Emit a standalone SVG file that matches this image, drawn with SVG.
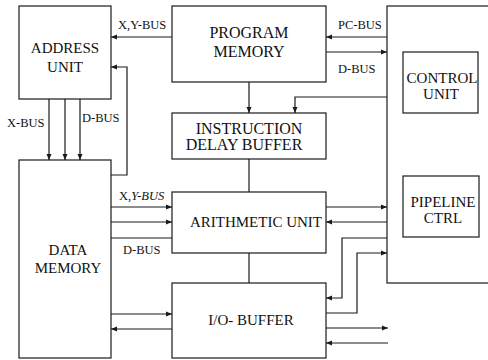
<svg xmlns="http://www.w3.org/2000/svg" width="488" height="360" viewBox="0 0 488 360">
<defs>
<marker id="ah" markerUnits="userSpaceOnUse" markerWidth="7" markerHeight="6" refX="6" refY="3" orient="auto">
<path d="M0,0.5 L6,3 L0,5.5 Z" fill="#1a1a1a"/>
</marker>
<style>
.box{fill:#fff;stroke:#1a1a1a;stroke-width:1.2}
.ln{fill:none;stroke:#1a1a1a;stroke-width:1.2}
.arr{marker-end:url(#ah)}
.t{font-family:"Liberation Serif","Times New Roman",serif;font-size:15px;fill:#111;text-anchor:middle}
.t16{font-size:16px}
.b{font-family:"Liberation Serif","Times New Roman",serif;font-size:12.5px;fill:#111}
</style>
</defs>
<rect width="488" height="360" fill="#fff"/>
<g id="control-block">
<rect class="box" x="387" y="6" width="110" height="277"/>
</g>
<g id="address-unit">
<rect class="box" x="19" y="6" width="92" height="93"/>
<text class="t" x="65" y="53">ADDRESS</text>
<text class="t" x="65" y="72">UNIT</text>
</g>
<g id="program-memory">
<rect class="box" x="172" y="6" width="154" height="76"/>
<text class="t t16" x="249" y="38">PROGRAM</text>
<text class="t t16" x="249" y="57">MEMORY</text>
</g>
<g id="instruction-delay-buffer">
<rect class="box" x="172" y="113" width="154" height="46"/>
<text class="t t16" x="249" y="134">INSTRUCTION</text>
<text class="t t16" x="244" y="150">DELAY BUFFER</text>
</g>
<g id="data-memory">
<rect class="box" x="19" y="160" width="92" height="198"/>
<text class="t" x="68" y="255">DATA</text>
<text class="t" x="68" y="273">MEMORY</text>
</g>
<g id="arithmetic-unit">
<rect class="box" x="172" y="192" width="154" height="61"/>
<text class="t" x="256" y="227">ARITHMETIC UNIT</text>
</g>
<g id="io-buffer">
<rect class="box" x="172" y="283" width="154" height="75"/>
<text class="t" x="251" y="325">I/O- BUFFER</text>
</g>
<g id="control-unit">
<rect class="box" x="403" y="52" width="75" height="61"/>
<text class="t" x="442" y="83">CONTROL</text>
<text class="t" x="441" y="99">UNIT</text>
</g>
<g id="pipeline-ctrl">
<rect class="box" x="403" y="176" width="76" height="61"/>
<text class="t" x="443" y="207">PIPELINE</text>
<text class="t" x="443" y="223">CTRL</text>
</g>
<g id="connectors">
<path class="ln arr" d="M172,37 H111"/>
<path class="ln arr" d="M49,99 V160"/>
<path class="ln arr" d="M65,99 V160"/>
<path class="ln arr" d="M80,99 V160"/>
<path class="ln arr" d="M111,175 H127 V67 H111"/>
<path class="ln arr" d="M249,82 V113"/>
<path class="ln arr" d="M387,37 H326"/>
<path class="ln arr" d="M326,52 H387"/>
<path class="ln arr" d="M387,97 H295 V113"/>
<path class="ln" d="M249,159 V192"/>
<path class="ln arr" d="M111,207 H172"/>
<path class="ln arr" d="M111,222 H172"/>
<path class="ln" d="M111,238 H172"/>
<path class="ln" d="M249,253 V283"/>
<path class="ln arr" d="M111,314 H172"/>
<path class="ln arr" d="M172,329 H111"/>
<path class="ln arr" d="M326,207 H387"/>
<path class="ln arr" d="M387,222 H326"/>
<path class="ln arr" d="M387,238 H342 V298 H326"/>
<path class="ln arr" d="M326,313 H357 V253 H387"/>
<path class="ln arr" d="M326,328 H388"/>
<path class="ln arr" d="M388,343 H326"/>
</g>
<g id="labels">
<text class="b" x="118" y="29">X,Y-BUS</text>
<text class="b" x="7" y="127">X-BUS</text>
<text class="b" x="82" y="122">D-BUS</text>
<text class="b" x="338" y="29">PC-BUS</text>
<text class="b" x="338" y="73">D-BUS</text>
<text class="b" x="119" y="200">X,<tspan font-style="italic">Y-BUS</tspan></text>
<text class="b" x="123" y="254">D-BUS</text>
</g>
</svg>
